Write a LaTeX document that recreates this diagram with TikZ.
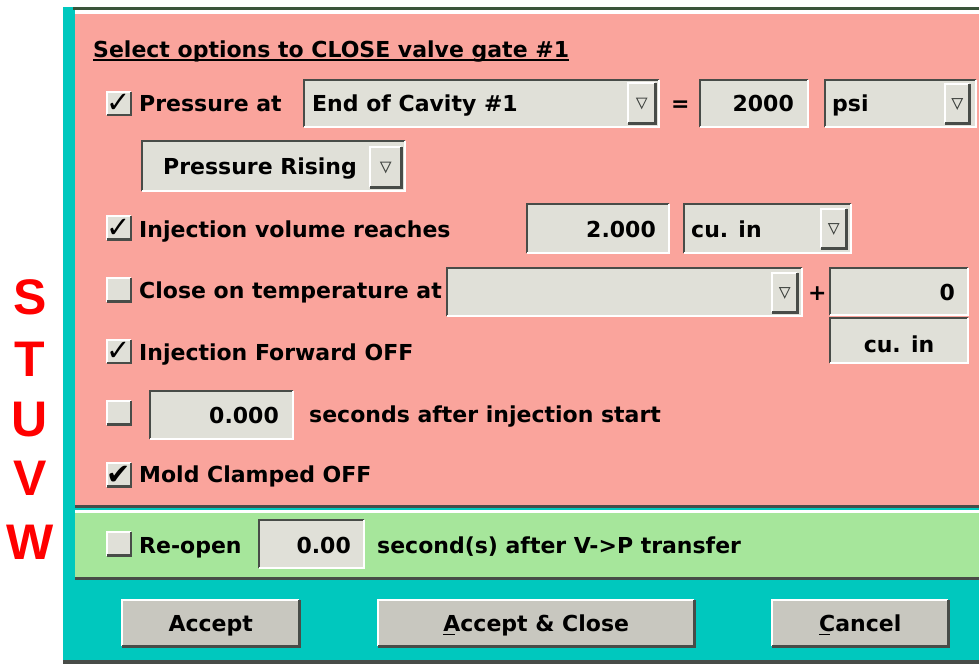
\documentclass[tikz,border=0pt]{standalone}
\usepackage{fontspec}
\setmainfont{DejaVu Sans}
\newfontfamily\sidefont{Liberation Sans}

\definecolor{pinkbg}{RGB}{250,164,156}
\definecolor{greenbg}{RGB}{166,230,155}
\definecolor{tealbg}{RGB}{0,200,190}
\definecolor{fieldbg}{RGB}{224,224,216}
\definecolor{buttonbg}{RGB}{200,199,191}
\definecolor{edge}{RGB}{72,76,72}
\definecolor{topline}{RGB}{58,84,58}

\newcommand{\gui}{\fontsize{22}{26}\selectfont\bfseries}
\newcommand{\mnem}[1]{\setbox0\hbox{#1}\rlap{\rule[-4pt]{0.7\wd0}{1.5pt}}#1}

% bevels round a named box
\newcommand{\sunken}[1]{%
  \draw[edge, line width=2.5pt] (#1.south west) -- (#1.north west) -- (#1.north east);
  \draw[white, line width=2pt] (#1.south west) -- (#1.south east) -- (#1.north east);}
\newcommand{\raised}[1]{%
  \draw[white, line width=2pt] (#1.south west) -- (#1.north west) -- (#1.north east);
  \draw[edge, line width=2.5pt] (#1.south west) -- (#1.south east) -- (#1.north east);}
\newcommand{\droparrow}[1]{%
  \draw[edge, line width=1pt] (#1.center) ++(-5,-5) -- ++(10,0) -- ++(-5,10) -- cycle;}

\begin{document}
\begin{tikzpicture}[x=1pt, y=-1pt,
    gtext/.style={inner sep=0pt, anchor=base west, font=\gui},
    box/.style={inner sep=0pt, anchor=north west, fill=fieldbg},
    checkbox/.style={inner sep=0pt, fill=fieldbg, minimum width=24pt, minimum height=23pt},
    tick/.style={inner sep=0pt, font=\fontsize{29}{29}\selectfont},
    button/.style={box, fill=buttonbg, minimum height=46pt, font=\gui, text height=16pt, text depth=0pt},
    sidelabel/.style={inner sep=0pt, anchor=base, text=red, font=\sidefont\fontsize{50}{50}\selectfont\bfseries}
]
\useasboundingbox[fill=white] (0,0) rectangle (979,664);

% Side letters
\node[sidelabel] (ls) at (30,314) {S};
\node[sidelabel] (lt) at (30,376) {T};
\node[sidelabel] (lu) at (30,436) {U};
\node[sidelabel] (lv) at (30,495) {V};
\node[sidelabel] (lw) at (30,559) {W};

% Window and panels
\fill[tealbg] (63,7) rectangle (979,664);
\draw[white, line width=1pt] (62.5,7) -- (62.5,664);
\fill[edge] (63,660) rectangle (979,664);
\fill[topline] (73,7) rectangle (979,10);
\fill[white] (75,10) rectangle (979,14);
\fill[pinkbg] (75,14) rectangle (979,505);
\fill[edge] (75,505) rectangle (979,508);
\fill[white] (75,510) rectangle (979,513);
\fill[greenbg] (75,513) rectangle (979,577);
\fill[edge] (75,577) rectangle (979,580);

% Title
\node[gtext] (title) at (93,57) {Select options to CLOSE valve gate \#1};
\draw[line width=1.5pt] ([yshift=-3pt]title.base west) -- ([yshift=-3pt]title.base east);

% Pressure row
\node[checkbox] (cbpress) at (119,103.5) {};
\node[gtext] (lpress) at (139,111) {Pressure at};
\node[box, minimum width=355pt, minimum height=47pt] (cavity) at (304,80) {};
\node[gtext] (tcavity) at (312,111) {End of Cavity \#1};
\node[box, minimum width=27pt, minimum height=40pt] (cavitybtn) at (628,83) {};
\node[gtext] (equals) at (671,111.5) {=};
\node[box, minimum width=108pt, minimum height=47pt] (pval) at (700,80) {};
\node[gtext, anchor=base east] (tpval) at (794,111) {2000};
\node[box, minimum width=151pt, minimum height=47pt] (punit) at (825,80) {};
\node[gtext] (tpunit) at (832,111) {psi};
\node[box, minimum width=24pt, minimum height=39pt] (punitbtn) at (945,84) {};

\node[box, minimum width=263pt, minimum height=50pt] (rising) at (142,141) {};
\node[gtext] (trising) at (163,174) {Pressure Rising};
\node[box, minimum width=31pt, minimum height=40pt] (risingbtn) at (370,147) {};

% Volume row
\node[checkbox] (cbvol) at (119,228) {};
\node[gtext] (lvol) at (139,237) {Injection volume reaches};
\node[box, minimum width=142pt, minimum height=49pt] (vval) at (527,204) {};
\node[gtext, anchor=base east] (tvval) at (656,237) {2.000};
\node[box, minimum width=167pt, minimum height=49pt] (vunit) at (684,204) {};
\node[gtext] (tvunit) at (691,237) {cu. in};
\node[box, minimum width=25pt, minimum height=39pt] (vunitbtn) at (821,209) {};

% Temperature row
\node[checkbox] (cbtemp) at (119,290) {};
\node[gtext] (ltemp) at (139,298.5) {Close on temperature at};
\node[box, minimum width=355pt, minimum height=48pt] (temp) at (447,268) {};
\node[box, minimum width=25pt, minimum height=39pt] (tempbtn) at (772,273) {};
\node[gtext] (plus) at (808,300) {+};
\node[box, minimum width=138pt, minimum height=47pt] (tval) at (830,268) {};
\node[gtext, anchor=base east] (ttval) at (955,300) {0};
\node[box, minimum width=138pt, minimum height=45pt] (tunit) at (830,318) {};
\node[gtext, anchor=base] (ttunit) at (899,352) {cu. in};

% Remaining options
\node[checkbox] (cbfwd) at (119,351.5) {};
\node[gtext] (lfwd) at (139,360) {Injection Forward OFF};
\node[checkbox] (cbdelay) at (119,413) {};
\node[box, minimum width=143pt, minimum height=48pt] (dval) at (150,391) {};
\node[gtext, anchor=base east] (tdval) at (279,423) {0.000};
\node[gtext] (ldelay) at (309,422) {seconds after injection start};
\node[checkbox] (cbclamp) at (119,475) {};
\node[gtext] (lclamp) at (139,482) {Mold Clamped OFF};

% Re-open row
\node[checkbox] (cbreopen) at (119,544) {};
\node[gtext] (lreopen) at (139,553) {Re-open};
\node[box, minimum width=105pt, minimum height=48pt] (rval) at (259,520) {};
\node[gtext, anchor=base east] (trval) at (351,553) {0.00};
\node[gtext] (lafter) at (377,553) {second(s) after V->P transfer};

% Buttons
\node[button, minimum width=177pt] (accept) at (122,600) {Accept};
\node[button, minimum width=316pt] (acceptclose) at (378,600) {\mnem{A}ccept \& Close};
\node[button, minimum width=176pt] (cancel) at (772,600) {\mnem{C}ancel};

% Bevels
\foreach \b in {cavity,pval,punit,rising,vval,vunit,temp,tval,tunit,dval,rval}
  {\sunken{\b}}
\foreach \b in {cavitybtn,punitbtn,risingbtn,vunitbtn,tempbtn,cbpress,cbvol,cbtemp,cbfwd,cbdelay,cbclamp,cbreopen,accept,acceptclose,cancel}
  {\raised{\b}}
\foreach \b in {cavitybtn,punitbtn,risingbtn,vunitbtn,tempbtn}
  {\droparrow{\b}}

% Ticks
\foreach \b in {cbpress,cbvol,cbfwd}
  {\node[tick] (tick-\b) at (\b.center) {✓};}
\node[tick] (tick-cbclamp) at (cbclamp.center) {✔};

\end{tikzpicture}
\end{document}
